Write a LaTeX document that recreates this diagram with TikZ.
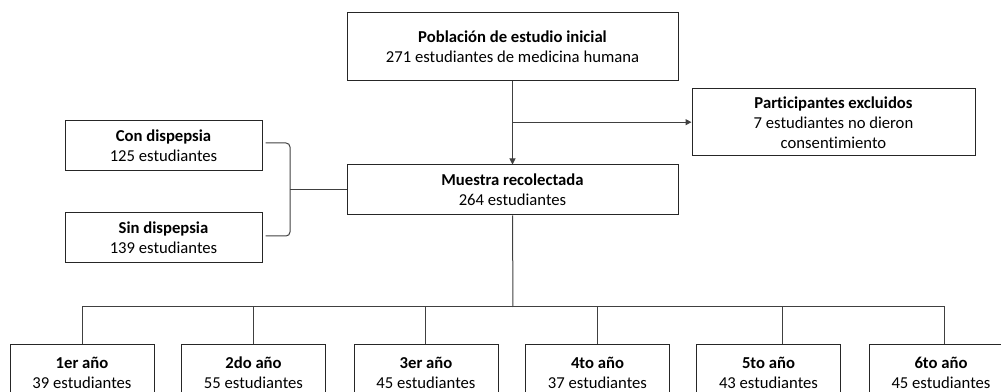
\documentclass[tikz,border=0pt]{standalone}
\usepackage{fontspec}
\setmainfont{Carlito}[Ligatures=NoCommon]
\usetikzlibrary{arrows.meta}
\usetikzlibrary{calc}
\tikzset{
  box/.style={draw=black!85, line width=0.75pt, fill=white, align=center,
    inner sep=2pt, font=\fontsize{12.5pt}{15pt}\selectfont},
  link/.style={draw=black!75, line width=0.75pt},
  arrow/.style={link, -{Triangle[length=4.5pt,width=4.5pt]}}
}

\begin{document}
\begin{tikzpicture}[x=0.75pt,y=-0.75pt]

\useasboundingbox (0,0) rectangle (1001,392);

% Draw the main boxes
\node[box, minimum width=331*0.75pt, minimum height=68*0.75pt] (ini) at (512.5,47)
  {\textbf{Población de estudio inicial}\\271 estudiantes de medicina humana};
\node[box, minimum width=283*0.75pt, minimum height=67*0.75pt] (excl) at (833.5,122.5)
  {\textbf{Participantes excluidos}\\7 estudiantes no dieron\\consentimiento};
\node[box, minimum width=331*0.75pt, minimum height=50*0.75pt] (muestra) at (512.5,190)
  {\textbf{Muestra recolectada}\\264 estudiantes};

% Draw the dyspepsia groups
\node[box, minimum width=197*0.75pt, minimum height=50*0.75pt] (con) at (163.5,146)
  {\textbf{Con dispepsia}\\125 estudiantes};
\node[box, minimum width=197*0.75pt, minimum height=50*0.75pt] (sin) at (163.5,238)
  {\textbf{Sin dispepsia}\\139 estudiantes};

% Draw the year boxes (cut at the bottom)
\foreach \n/\x/\lab/\num in {1/82/1er/39, 2/253.5/2do/55, 3/426/3er/45,
                             4/597.5/4to/37, 5/768.5/5to/43, 6/941/6to/45}
  \node[box, minimum width=144*0.75pt, minimum height=55*0.75pt] (y\n) at (\x,372.5)
    {\textbf{\lab\ año}\\\num\ estudiantes};

% Connectors
\coordinate (split) at ($(ini.south)!0.49!(muestra.north)$);
\draw[arrow] (ini.south) -- (muestra.north);
\draw[arrow] (split) -- (split -| excl.west);

\coordinate (brR) at (290,190);
\draw[link, rounded corners=3pt] ($(con.east)+(3,-3)$) -- ($(brR)+(0,-47)$)
  -- ($(brR)+(0,46)$) -- ($(sin.east)+(3,-2)$);
\draw[link] (brR) -- (muestra.west);

\coordinate (bus) at (513,307);
\draw[link] (muestra.south) -- (bus);
\foreach \n/\dx in {1/0, 2/0, 3/-1, 4/0, 5/14, 6/3}
  \draw[link] ($(y\n.north)+(\dx,0)$) |- (bus);

\end{tikzpicture}
\end{document}
